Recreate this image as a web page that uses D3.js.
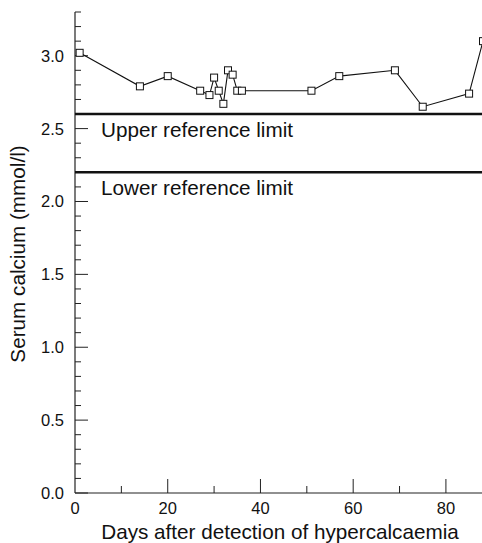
<!DOCTYPE html>
<html lang="en">
<head>
    <meta charset="UTF-8">
    <title>Serum calcium</title>
    <script src="https://d3js.org/d3.v7.min.js"></script>
    <style>
        body { margin: 0; background: #fff; }
        svg { display: block; }
        text { font-family: "Liberation Sans", Arial, sans-serif; fill: #111; }
        .tick-label { font-size: 16.5px; }
        .axis-title { font-size: 20.7px; }
        .ref-label { font-size: 20.7px; }
    </style>
</head>
<body>
    <svg width="482" height="543"></svg>
    <script>
        // data
        const days = [1, 14, 20, 27, 29, 30, 31, 32, 33, 34, 35, 36, 51, 57, 69, 75, 85, 88];
        const calcium = [3.02, 2.79, 2.86, 2.76, 2.73, 2.85, 2.76, 2.67, 2.90, 2.87, 2.76, 2.76, 2.76, 2.86, 2.90, 2.65, 2.74, 3.10];

        const refValues = [2.6, 2.2];
        const refLabels = ["Upper reference limit", "Lower reference limit"];

        const xTickLabels = [0, 20, 40, 60, 80];
        const yTickLabels = ["0.0", "0.5", "1.0", "1.5", "2.0", "2.5", "3.0"];

        const svg = d3.select("svg");

        const x = d3.scaleLinear().domain([0, 88]).range([75, 483]);
        const y = d3.scaleLinear().domain([0, 3.3]).range([493, 12]);

        const axisColor = "#222";

        // y axis line + ticks (pointing inward)
        svg.append("line")
            .attr("x1", x(0)).attr("x2", x(0))
            .attr("y1", y(0)).attr("y2", y(3.3))
            .attr("stroke", axisColor).attr("stroke-width", 1.2);

        const yMinor = d3.range(0, 34).map(i => i / 10);
        svg.selectAll(".ytick")
            .data(yMinor)
            .enter().append("line")
            .attr("class", "ytick")
            .attr("x1", x(0))
            .attr("x2", (d, i) => x(0) + (i % 5 === 0 ? 13 : 6))
            .attr("y1", d => y(d)).attr("y2", d => y(d))
            .attr("stroke", axisColor).attr("stroke-width", 1);

        svg.selectAll(".ylab")
            .data(yTickLabels)
            .enter().append("text")
            .attr("class", "tick-label")
            .attr("text-anchor", "end")
            .attr("x", x(0) - 11)
            .attr("y", d => y(+d))
            .attr("dy", "0.36em")
            .text(d => d);

        // x axis line + ticks (pointing inward)
        svg.append("line")
            .attr("x1", x(0)).attr("x2", 482)
            .attr("y1", y(0)).attr("y2", y(0))
            .attr("stroke", axisColor).attr("stroke-width", 1.2);

        const xMinor = d3.range(10, 90, 10);
        svg.selectAll(".xtick")
            .data(xMinor)
            .enter().append("line")
            .attr("class", "xtick")
            .attr("x1", d => x(d)).attr("x2", d => x(d))
            .attr("y1", y(0))
            .attr("y2", d => y(0) - (d % 20 === 0 ? 14 : 7))
            .attr("stroke", axisColor).attr("stroke-width", 1);

        svg.selectAll(".xlab")
            .data(xTickLabels)
            .enter().append("text")
            .attr("class", "tick-label")
            .attr("text-anchor", "middle")
            .attr("x", d => x(d))
            .attr("y", 514)
            .text(d => d);

        // axis titles
        svg.append("text")
            .attr("class", "axis-title")
            .attr("text-anchor", "middle")
            .attr("x", 280)
            .attr("y", 538.5)
            .text("Days after detection of hypercalcaemia");

        svg.append("text")
            .attr("class", "axis-title")
            .attr("text-anchor", "middle")
            .attr("transform", "translate(25,254) rotate(-90)")
            .text("Serum calcium (mmol/l)");

        // reference limits
        svg.selectAll(".ref")
            .data(refValues)
            .enter().append("line")
            .attr("class", "ref")
            .attr("x1", x(0)).attr("x2", 482)
            .attr("y1", d => y(d)).attr("y2", d => y(d))
            .attr("stroke", "#111").attr("stroke-width", 2.5);

        svg.selectAll(".ref-label")
            .data(refValues)
            .enter().append("text")
            .attr("class", "ref-label")
            .attr("x", 101)
            .attr("y", d => y(d) + 23)
            .text((d, i) => refLabels[i]);

        // calcium series
        const pts = days.map((d, i) => [d, calcium[i]]);

        svg.append("path")
            .datum(pts)
            .attr("fill", "none")
            .attr("stroke", "#111")
            .attr("stroke-width", 1.1)
            .attr("d", d3.line().x(d => x(d[0])).y(d => y(d[1])));

        svg.selectAll(".pt")
            .data(pts)
            .enter().append("rect")
            .attr("class", "pt")
            .attr("x", d => x(d[0]) - 3.5)
            .attr("y", d => y(d[1]) - 3.5)
            .attr("width", 7).attr("height", 7)
            .attr("fill", "#fff")
            .attr("stroke", "#111")
            .attr("stroke-width", 1);
    </script>
</body>
</html>
